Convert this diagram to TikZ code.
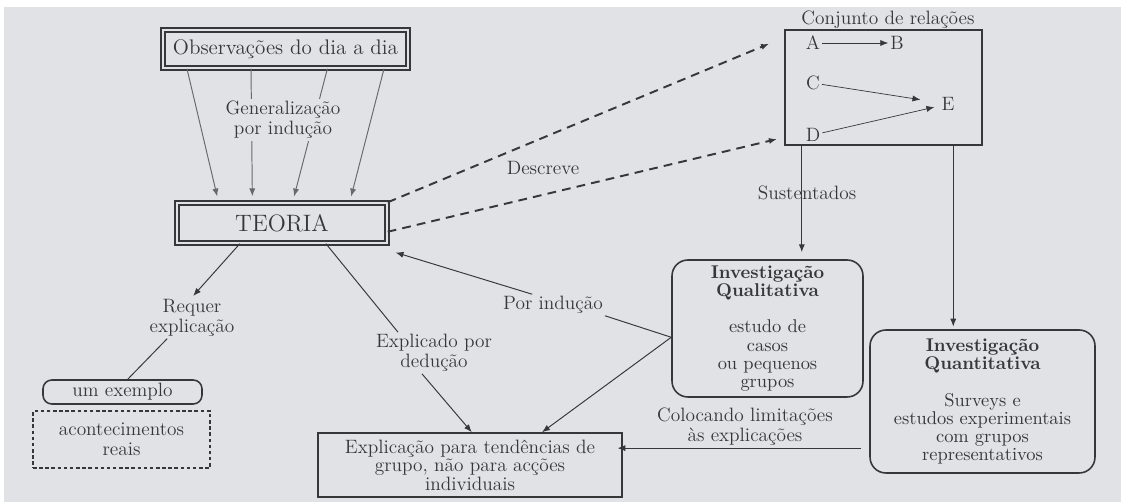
\documentclass[tikz,border=0pt]{standalone}
\usepackage{fontspec}
\usetikzlibrary{calc,arrows.meta}
\definecolor{bgpaper}{RGB}{224,226,230}
\definecolor{ink}{RGB}{55,55,58}
\tikzset{
	box/.style={draw=ink, line width=0.9pt, inner sep=0pt, align=center},
	dbox/.style={box, double=bgpaper, double distance=1.3pt, line width=0.8pt},
	rbox/.style={box, rounded corners=9pt},
	lbl/.style={align=center, inner sep=1pt},
	arr/.style={draw=ink, line width=0.55pt, -{Latex[length=4.5pt,width=3.5pt]}},
	thinarr/.style={arr, draw=ink!75},
	dasharr/.style={arr, line width=1.1pt, dash pattern=on 5pt off 3.5pt},
}
\begin{document}
\begin{tikzpicture}[x=0.02cm, y=-0.02cm, every node/.style={text=ink, font=\fontsize{11}{11.5}\selectfont}]
		%%%%% START %%%%%
		\useasboundingbox (0,0) rectangle (1121,502);
		\fill[white] (0,0) rectangle (1121,502);
		\fill[bgpaper] (4,7) rectangle (1121,502);
		
		% boxes
		\node[dbox, minimum width=4.9cm, minimum height=0.76cm, font=\fontsize{12}{14}\selectfont] (obs) at (285.5,49) {Observações do dia a dia};
		\node[dbox, minimum width=4.2cm, minimum height=0.8cm, font=\fontsize{13.5}{15}\selectfont] (teoria) at (282,223) {TEORIA};
		\node[box, line width=1.3pt, minimum width=3.94cm, minimum height=2.3cm] (conj) at (883.5,87.5) {};
		\node[lbl] (conjtit) at (888,20) {Conjunto de relações};
		\node[rbox, minimum width=3.82cm, minimum height=2.74cm, font=\fontsize{10.5}{10.3}\selectfont] (qual) at (767.5,328.5)
			{\textbf{Investigação}\\\textbf{Qualitativa}\\[10.3pt]estudo de\\casos\\ou pequenos\\grupos};
		\node[rbox, minimum width=4.5cm, minimum height=2.86cm, font=\fontsize{10.5}{10.3}\selectfont] (quant) at (982.5,401.5)
			{\textbf{Investigação}\\\textbf{Quantitativa}\\[10.3pt]Surveys e\\estudos experimentais\\com grupos\\representativos};
		\node[box, minimum width=6.08cm, minimum height=1.28cm, font=\fontsize{11}{10.5}\selectfont] (expl) at (470,465)
			{Explicação para tendências de\\grupo, não para acções\\individuais};
		\node[rbox, rounded corners=5pt, minimum width=3.18cm, minimum height=0.48cm] (exemplo) at (122.5,392) {um exemplo};
		\node[box, line width=0.6pt, dash pattern=on 2pt off 1.5pt, minimum width=3.54cm, minimum height=1.14cm] (acont) at (121.5,439.5)
			{acontecimentos\\reais};
		
		% relations inside the set
		\node[lbl] (A) at (813,43) {A};
		\node[lbl] (B) at (897,43) {B};
		\node[lbl] (C) at (813,83) {C};
		\node[lbl] (E) at (948,104) {E};
		\node[lbl] (D) at (813,135) {D};
		\draw[arr, line width=0.4pt] (A) -- (B);
		\draw[arr, line width=0.4pt, shorten >=11pt] (C) -- (E);
		\draw[arr, line width=0.4pt, shorten >=3pt] (D) -- (E);
		
		% generalization from observations
		\foreach \f/\g in {0.10/0.20, 0.36/0.36, 0.67/0.55, 0.90/0.82}
			\draw[thinarr, shorten >=3.4pt] ($(obs.south west)!\f!(obs.south east)$) -- ($(teoria.north west)!\g!(teoria.north east)$);
		\node[lbl, fill=bgpaper] (gener) at (283,120) {Generalização\\por indução};
		
		% theory describes the relations
		\draw[dasharr] (teoria.north east) -- ([xshift=-8.5pt,yshift=-8.5pt]conj.north west);
		\draw[dasharr] ([yshift=-5pt]teoria.east) -- ([xshift=-4pt,yshift=4pt]conj.south west);
		\node[lbl] (descr) at (543,168) {Descreve};
		
		% supported research
		\coordinate (s1) at ([xshift=10.2pt]conj.south west);
		\coordinate (s2) at ([xshift=-17pt]conj.south east);
		\draw[arr, shorten >=4pt] (s1) -- (s1 |- qual.north);
		\draw[arr, shorten >=1.5pt] (s2) -- (s2 |- quant.north);
		\node[lbl] (sust) at (807,193) {Sustentados};
		
		% induction and deduction
		\node[lbl] (porind) at (553,305) {Por indução};
		\coordinate (qin) at ([yshift=-5pt]qual.west);
		\draw[ink, line width=0.55pt] (qin) -- (porind.south east);
		\draw[arr] ($(porind.north west)!0.3!(porind.north east)$) -- ([xshift=4.5pt,yshift=-5pt]teoria.south east);
		\draw[arr] (qin) -- ([xshift=41pt]expl.north);
		
		\node[lbl] (dedu) at (434,353) {Explicado por\\dedução};
		\draw[ink, line width=0.55pt] ([xshift=25pt]teoria.south) -- ($(dedu.north west)!0.2!(dedu.north east)$);
		\draw[arr] ($(dedu.south west)!0.4!(dedu.south east)$) -- ([xshift=1pt]expl.north);
		
		\node[lbl] (requer) at (192,318) {Requer\\explicação};
		\draw[arr, shorten >=1pt] ([xshift=-24pt]teoria.south) -- (requer.north);
		\draw[ink, line width=0.55pt] ($(requer.south west)!0.22!(requer.south east)$) -- ([xshift=3pt]exemplo.north);
		
		% limits from quantitative research
		\coordinate (lim) at ([yshift=9.6pt]expl.east);
		\draw[arr, shorten <=4.5pt, shorten >=-3pt] (quant.west |- lim) -- (lim);
		\node[lbl] (colo) at (745,427) {Colocando limitações\\às explicações};
		%%%%% END %%%%%
\end{tikzpicture}
\end{document}
